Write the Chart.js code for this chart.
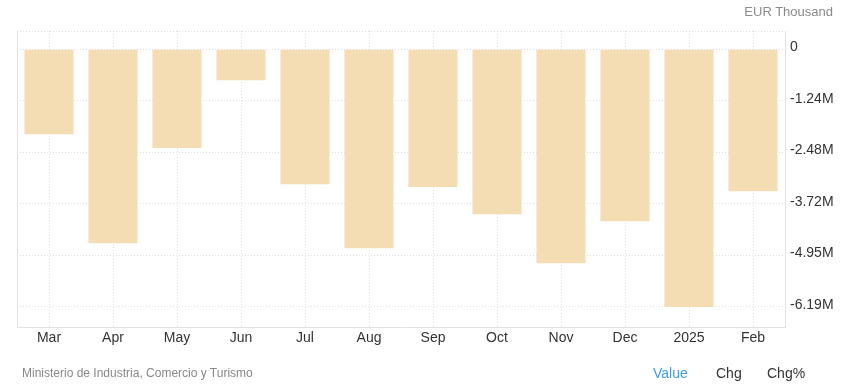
<!DOCTYPE html>
<html>
<head>
<meta charset="utf-8">
<script src="https://cdn.jsdelivr.net/npm/chart.js@4"></script>
<style>
  html, body { margin: 0; padding: 0; background: #fff; }
  #wrap { position: relative; width: 846px; height: 388px; font-family: "Liberation Sans", Arial, sans-serif; }
  #grafica { position: absolute; left: 0; top: 0; }
  .txt { position: absolute; white-space: nowrap; }
  #unidad { right: 13px; top: 4px; font-size: 13px; color: #8a8a8a; }
  #fuente { left: 22px; top: 366px; font-size: 12px; color: #888; }
  #btnValue { left: 653px; top: 365px; font-size: 14px; color: #3a9df2; }
  #btnChg { left: 716px; top: 365px; font-size: 14px; color: #333; }
  #btnChgP { left: 767px; top: 365px; font-size: 14px; color: #333; }
</style>
</head>
<body>
<div id="wrap">
  <canvas id="grafica" width="846" height="388"></canvas>
  <div class="txt" id="unidad">EUR Thousand</div>
  <div class="txt" id="fuente">Ministerio de Industria, Comercio y Turismo</div>
  <div class="txt" id="btnValue">Value</div>
  <div class="txt" id="btnChg">Chg</div>
  <div class="txt" id="btnChgP">Chg%</div>
</div>
<script>
const meses = ['Mar', 'Apr', 'May', 'Jun', 'Jul', 'Aug', 'Sep', 'Oct', 'Nov', 'Dec', '2025', 'Feb'];
// EUR Thousand
const valores = [-2040000, -4660000, -2370000, -740000, -3240000, -4780000, -3310000, -3960000, -5140000, -4130000, -6190000, -3410000];
const ticksY = [440000, 0, -1237500, -2475000, -3712500, -4950000, -6187500];
const etiquetasY = ['', '0', '-1.24M', '-2.48M', '-3.72M', '-4.95M', '-6.19M'];

const ctx = document.getElementById('grafica').getContext('2d');
const grafica = new Chart(ctx, {
  type: 'bar',
  data: {
    labels: meses,
    datasets: [{
      data: valores,
      backgroundColor: '#f4ddb3',
      borderWidth: 0,
      categoryPercentage: 1,
      barPercentage: 0.766,
      yAxisID: 'y'
    }]
  },
  options: {
    responsive: false,
    animation: false,
    layout: { padding: { top: 31, left: 0, right: 0, bottom: 0 } },
    plugins: { legend: { display: false }, tooltip: { enabled: false } },
    scales: {
      x: {
        grid: { offset: false, color: '#dedede', drawTicks: false },
        border: { display: true, color: '#e2e2e2', dash: [1, 2] },
        ticks: { color: '#333', font: { family: 'Liberation Sans', size: 14 }, padding: 3, maxRotation: 0 },
        afterFit: function (s) { s.height = 61; }
      },
      y: {
        position: 'right',
        min: -6670000,
        max: 440000,
        afterBuildTicks: function (s) { s.ticks = ticksY.map(function (v) { return { value: v }; }); },
        grid: { color: '#dedede', drawTicks: false },
        border: { display: true, color: '#e2e2e2', dash: [1, 2] },
        ticks: {
          color: '#333',
          font: { family: 'Liberation Sans', size: 14 },
          padding: 5,
          labelOffset: -2,
          callback: function (v, i) { return etiquetasY[i]; }
        },
        afterFit: function (s) { s.width = 61; }
      },
      yl: {
        position: 'left',
        min: -6670000,
        max: 440000,
        grid: { display: false, drawTicks: false },
        border: { display: true, color: '#e2e2e2' },
        ticks: { display: false },
        afterFit: function (s) { s.width = 17; }
      }
    }
  }
});
</script>
</body>
</html>
